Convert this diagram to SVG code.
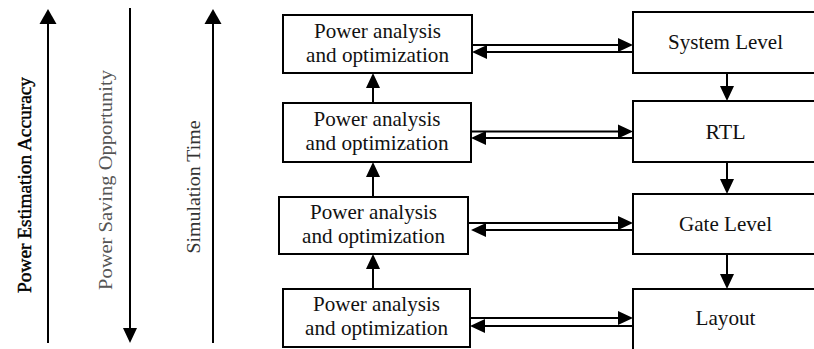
<svg xmlns="http://www.w3.org/2000/svg" width="814" height="349" viewBox="0 0 814 349">
  <style>
    .box { fill: #fff; stroke: #000; stroke-width: 2; }
    .ln { fill: none; stroke: #000; stroke-width: 2; }
    .t { font-family: 'Liberation Serif', 'Times New Roman', Times, serif; font-size: 21px; fill: #111; text-anchor: middle; }
    .ax { font-family: 'Liberation Serif', 'Times New Roman', Times, serif; font-size: 19px; text-anchor: middle; }
  </style>
  <defs>
    <marker id="ah" markerUnits="userSpaceOnUse" markerWidth="16" markerHeight="16" refX="12" refY="7" orient="auto" viewBox="0 0 16 14">
      <path d="M0,0 L15,7 L0,14 z" fill="#000"/>
    </marker>
    <marker id="ahBig" markerUnits="userSpaceOnUse" markerWidth="16" markerHeight="18" refX="12" refY="8.5" orient="auto" viewBox="0 0 16 17">
      <path d="M0,0 L15,8.5 L0,17 z" fill="#000"/>
    </marker>
  </defs>

  <!-- trend axes on the left -->
  <g id="axis-accuracy">
    <line class="ln" x1="48" y1="343" x2="48" y2="12" marker-end="url(#ahBig)"/>
    <text class="ax" fill="#000" stroke="#000" stroke-width="0.4" transform="translate(31,185) rotate(-90)" textLength="216" lengthAdjust="spacingAndGlyphs">Power Estimation Accuracy</text>
  </g>
  <g id="axis-saving">
    <line class="ln" x1="130" y1="8" x2="130" y2="340" marker-end="url(#ah)"/>
    <text class="ax" fill="#555" transform="translate(112,180) rotate(-90)" textLength="220" lengthAdjust="spacingAndGlyphs">Power Saving Opportunity</text>
  </g>
  <g id="axis-simtime">
    <line class="ln" x1="213" y1="343" x2="213" y2="12" marker-end="url(#ahBig)"/>
    <text class="ax" fill="#333" transform="translate(200,187) rotate(-90)" textLength="133" lengthAdjust="spacingAndGlyphs">Simulation Time</text>
  </g>

  <!-- analysis boxes -->
  <g id="pa1">
    <rect class="box" x="283" y="15" width="189" height="58"/>
    <text class="t" x="377.5" y="38" textLength="127" lengthAdjust="spacingAndGlyphs">Power analysis</text>
    <text class="t" x="377.5" y="62" textLength="143" lengthAdjust="spacingAndGlyphs">and optimization</text>
  </g>
  <g id="pa2">
    <rect class="box" x="283" y="103" width="188" height="59"/>
    <text class="t" x="377" y="126" textLength="127" lengthAdjust="spacingAndGlyphs">Power analysis</text>
    <text class="t" x="377" y="150" textLength="143" lengthAdjust="spacingAndGlyphs">and optimization</text>
  </g>
  <g id="pa3">
    <rect class="box" x="279" y="197" width="189" height="57"/>
    <text class="t" x="373.5" y="219" textLength="127" lengthAdjust="spacingAndGlyphs">Power analysis</text>
    <text class="t" x="373.5" y="243" textLength="143" lengthAdjust="spacingAndGlyphs">and optimization</text>
  </g>
  <g id="pa4">
    <rect class="box" x="283" y="289" width="187" height="58"/>
    <text class="t" x="376.5" y="311" textLength="127" lengthAdjust="spacingAndGlyphs">Power analysis</text>
    <text class="t" x="376.5" y="335" textLength="143" lengthAdjust="spacingAndGlyphs">and optimization</text>
  </g>

  <!-- abstraction levels -->
  <g id="system-level">
    <rect class="box" x="633" y="12" width="186" height="61"/>
    <text class="t" x="725.5" y="49" textLength="115" lengthAdjust="spacingAndGlyphs">System Level</text>
  </g>
  <g id="rtl">
    <rect class="box" x="633" y="101" width="186" height="61"/>
    <text class="t" x="725.5" y="139" textLength="40" lengthAdjust="spacingAndGlyphs">RTL</text>
  </g>
  <g id="gate-level">
    <rect class="box" x="633" y="194" width="186" height="60"/>
    <text class="t" x="725.5" y="231" textLength="93" lengthAdjust="spacingAndGlyphs">Gate Level</text>
  </g>
  <g id="layout">
    <rect class="box" x="633" y="289" width="186" height="70"/>
    <text class="t" x="725.5" y="325" textLength="60" lengthAdjust="spacingAndGlyphs">Layout</text>
  </g>

  <g id="connectors">
    <!-- upward flow between analysis boxes -->
    <line class="ln" x1="373" y1="103" x2="373" y2="76" marker-end="url(#ah)"/>
    <line class="ln" x1="373" y1="197" x2="373" y2="165" marker-end="url(#ah)"/>
    <line class="ln" x1="373" y1="289" x2="373" y2="257" marker-end="url(#ah)"/>
    <!-- downward flow between levels -->
    <line class="ln" x1="727" y1="73" x2="727" y2="98" marker-end="url(#ah)"/>
    <line class="ln" x1="727" y1="162" x2="727" y2="191" marker-end="url(#ah)"/>
    <line class="ln" x1="727" y1="254" x2="727" y2="286" marker-end="url(#ah)"/>
    <!-- paired exchange arrows -->
    <line class="ln" x1="472" y1="45" x2="630" y2="45" marker-end="url(#ah)"/>
    <line class="ln" x1="633" y1="52" x2="475" y2="52" marker-end="url(#ah)"/>
    <line class="ln" x1="471" y1="131.5" x2="630" y2="131.5" marker-end="url(#ah)"/>
    <line class="ln" x1="633" y1="138" x2="474" y2="138" marker-end="url(#ah)"/>
    <line class="ln" x1="469" y1="223" x2="630" y2="223" marker-end="url(#ah)"/>
    <line class="ln" x1="633" y1="230" x2="474" y2="230" marker-end="url(#ah)"/>
    <line class="ln" x1="470" y1="318" x2="630" y2="318" marker-end="url(#ah)"/>
    <line class="ln" x1="633" y1="326" x2="473" y2="326" marker-end="url(#ah)"/>
  </g>
</svg>
